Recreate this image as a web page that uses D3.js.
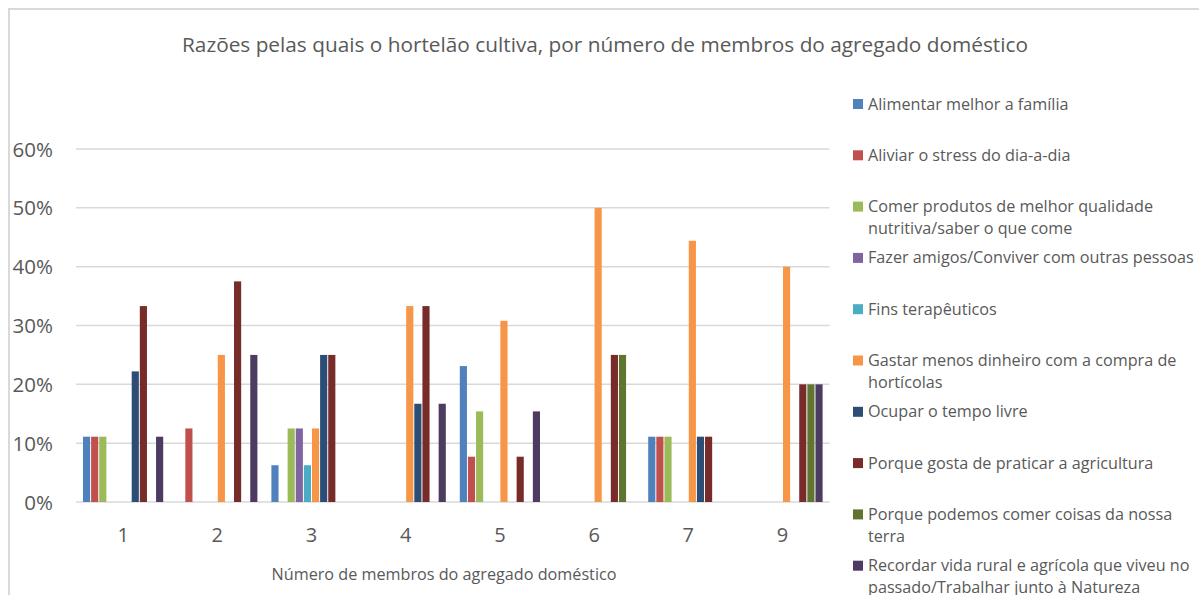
<!DOCTYPE html>
<html>
<head>
<meta charset="utf-8">
<script src="https://cdn.jsdelivr.net/npm/d3@7"></script>
<style>
    body { margin: 0; background: #fff; }
    svg { display: block; font-family: "Open Sans", Lato, sans-serif; }
</style>
</head>
<body>
<svg id="chart" width="1199" height="595"></svg>
<script>
const title = 'Razões pelas quais o hortelão cultiva, por número de membros do agregado doméstico';
const xTitle = 'Número de membros do agregado doméstico';

const categories = ['1', '2', '3', '4', '5', '6', '7', '9'];
const yTicks = [0, 0.1, 0.2, 0.3, 0.4, 0.5, 0.6];

// legend labels, split where the original wraps
const seriesNames = [
    ['Alimentar melhor a família'],
    ['Aliviar o stress do dia-a-dia'],
    ['Comer produtos de melhor qualidade', 'nutritiva/saber o que come'],
    ['Fazer amigos/Conviver com outras pessoas'],
    ['Fins terapêuticos'],
    ['Gastar menos dinheiro com a compra de', 'hortícolas'],
    ['Ocupar o tempo livre'],
    ['Porque gosta de praticar a agricultura'],
    ['Porque podemos comer coisas da nossa', 'terra'],
    ['Recordar vida rural e agrícola que viveu no', 'passado/Trabalhar junto à Natureza']
];
const colors = ['#4F81BD', '#C0504D', '#9BBB59', '#8064A2', '#4BACC6',
                '#F79646', '#2C4D75', '#772C2A', '#5F7530', '#4D3B62'];

// one array per reason, values per household size (1,2,3,4,5,6,7,9)
const alimentar  = [0.111, 0,     0.0625, 0,     0.231, 0,    0.111, 0];
const aliviar    = [0.111, 0.125, 0,      0,     0.077, 0,    0.111, 0];
const comer      = [0.111, 0,     0.125,  0,     0.154, 0,    0.111, 0];
const fazer      = [0,     0,     0.125,  0,     0,     0,    0,     0];
const fins       = [0,     0,     0.0625, 0,     0,     0,    0,     0];
const gastar     = [0,     0.25,  0.125,  0.333, 0.308, 0.5,  0.444, 0.4];
const ocupar     = [0.222, 0,     0.25,   0.167, 0,     0,    0.111, 0];
const gosta      = [0.333, 0.375, 0.25,   0.333, 0.077, 0.25, 0.111, 0.2];
const podemos    = [0,     0,     0,      0,     0,     0.25, 0,     0.2];
const recordar   = [0.111, 0.25,  0,      0.167, 0.154, 0,    0,     0.2];

const seriesValues = [alimentar, aliviar, comer, fazer, fins, gastar, ocupar, gosta, podemos, recordar];

const svg = d3.select('#chart');
const textColor = '#595959';
const gridColor = '#d9d9d9';

// chart frame
svg.append('rect')
    .attr('x', 9).attr('y', 9)
    .attr('width', 1200).attr('height', 600)
    .attr('fill', 'none')
    .attr('stroke', gridColor)
    .attr('stroke-width', 2);

svg.append('text')
    .attr('x', 605).attr('y', 52)
    .attr('text-anchor', 'middle')
    .attr('font-size', 20.8)
    .attr('fill', textColor)
    .text(title);

const plot = { left: 76, right: 829.6, top: 149, bottom: 502 };

const x0 = d3.scaleBand().domain(categories).range([plot.left, plot.right]);
const x1 = d3.scaleBand().domain(d3.range(seriesValues.length))
    .range([7, x0.bandwidth() - 7]).paddingInner(0.12);
const y = d3.scaleLinear().domain([0, 0.6]).range([plot.bottom, plot.top]);

// gridlines
svg.append('g')
    .selectAll('line')
    .data(yTicks)
    .join('line')
    .attr('x1', plot.left).attr('x2', plot.right)
    .attr('y1', d => y(d)).attr('y2', d => y(d))
    .attr('stroke', gridColor)
    .attr('stroke-width', 1.5);

// y labels
svg.append('g')
    .selectAll('text')
    .data(yTicks)
    .join('text')
    .attr('x', 53)
    .attr('y', d => y(d) + 7.5)
    .attr('text-anchor', 'end')
    .attr('font-size', 20.5)
    .attr('fill', textColor)
    .text(d3.format('.0%'));

// bars
const groups = svg.append('g')
    .selectAll('g')
    .data(categories)
    .join('g')
    .attr('transform', c => `translate(${x0(c)},0)`);

groups.selectAll('rect')
    .data((c, ci) => seriesValues.map((vals, si) => ({ si, v: vals[ci] })).filter(d => d.v > 0))
    .join('rect')
    .attr('x', d => x1(d.si))
    .attr('width', x1.bandwidth())
    .attr('y', d => y(d.v))
    .attr('height', d => y(0) - y(d.v))
    .attr('fill', d => colors[d.si]);

// category labels
svg.append('g')
    .selectAll('text')
    .data(categories)
    .join('text')
    .attr('x', c => x0(c) + x0.bandwidth() / 2)
    .attr('y', 542)
    .attr('text-anchor', 'middle')
    .attr('font-size', 20)
    .attr('fill', textColor)
    .text(c => c);

svg.append('text')
    .attr('x', 444).attr('y', 580)
    .attr('text-anchor', 'middle')
    .attr('font-size', 16.2)
    .attr('fill', textColor)
    .text(xTitle);

// legend
const legend = svg.append('g')
    .selectAll('g')
    .data(seriesNames)
    .join('g')
    .attr('transform', (d, i) => `translate(853,${104 + i * 51.3})`);

legend.append('rect')
    .attr('x', 0).attr('y', -5)
    .attr('width', 10).attr('height', 10)
    .attr('fill', (d, i) => colors[i]);

legend.selectAll('text')
    .data(d => d)
    .join('text')
    .attr('x', 15)
    .attr('y', (d, j) => 5.5 + j * 22)
    .attr('font-size', 16.2)
    .attr('fill', textColor)
    .text(d => d);
</script>
</body>
</html>
